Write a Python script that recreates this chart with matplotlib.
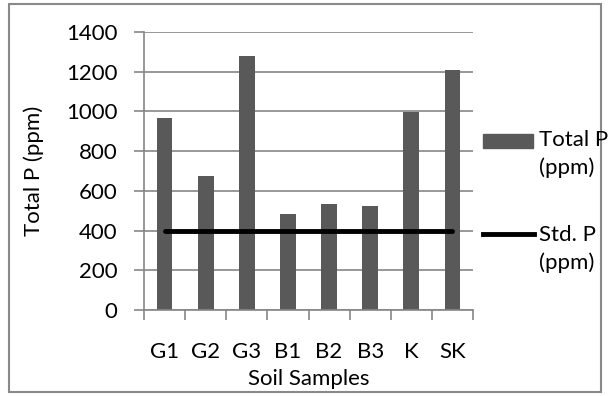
import matplotlib.pyplot as plt
from matplotlib.patches import Rectangle
from matplotlib.lines import Line2D

plt.rcParams['font.family'] = ['Lato', 'DejaVu Sans']

# data
samples = ['G1', 'G2', 'G3', 'B1', 'B2', 'B3', 'K', 'SK']
total_p = [965, 675, 1279, 482, 532, 524, 995, 1208]
std_p = [400, 400, 400, 400, 400, 400, 400, 400]
y_ticks = [0, 200, 400, 600, 800, 1000, 1200, 1400]

bar_color = '#595959'
grid_color = '#868686'
fs = 16

fig = plt.figure(figsize=(6.09, 3.96), dpi=100)
ax = fig.add_axes([144/609, 1 - 310/396, (473 - 144)/609, (310 - 32)/396])

x = list(range(len(samples)))
ax.bar(x, total_p, width=0.38, color=bar_color, zorder=2)
ax.plot(x, std_p, color='black', linewidth=3.5, solid_capstyle='round', zorder=3)

ax.set_xlim(-0.5, len(samples) - 0.5)
ax.set_ylim(0, 1400)
ax.set_yticks(y_ticks)
ax.yaxis.grid(True, color=grid_color, linewidth=1.2, zorder=0)

# category ticks sit between the bars
ax.set_xticks([i - 0.5 for i in range(len(samples) + 1)])
ax.set_xticklabels([])
ax.set_xticks(x, minor=True)
ax.set_xticklabels(samples, minor=True)
ax.tick_params(axis='x', which='major', direction='out', length=7, color=grid_color, width=1.2)
ax.tick_params(axis='x', which='minor', length=0, pad=23, labelsize=fs)
ax.tick_params(axis='y', direction='out', length=7, color=grid_color, width=1.2, labelsize=fs, pad=12)

for s in ['top', 'right']:
    ax.spines[s].set_visible(False)
for s in ['left', 'bottom']:
    ax.spines[s].set_color(grid_color)
    ax.spines[s].set_linewidth(1.2)

ax.set_xlabel('Soil Samples', fontsize=fs, labelpad=5)
ax.set_ylabel('Total P (ppm)', fontsize=fs, labelpad=16)

# legend drawn by hand to keep the two-line labels
fig.patches.append(Rectangle((483/609, 1 - 148/396), 50/609, 14/396,
                             transform=fig.transFigure, color=bar_color))
fig.text(539/609, 1 - 130/396, 'Total P\n(ppm)', fontsize=fs, va='top', ha='left',
         linespacing=1.45, transform=fig.transFigure)
fig.lines.append(Line2D([483/609, 534/609], [1 - 234/396, 1 - 234/396],
                        transform=fig.transFigure, color='black', linewidth=3.5))
fig.text(539/609, 1 - 225/396, 'Std. P\n(ppm)', fontsize=fs, va='top', ha='left',
         linespacing=1.45, transform=fig.transFigure)

# outer chart border
fig.patches.append(Rectangle((9/609, 1 - 392/396), 592/609, 388/396, transform=fig.transFigure,
                             fill=False, edgecolor='#898989', linewidth=1.5))

fig.savefig('out.png', dpi=100)
